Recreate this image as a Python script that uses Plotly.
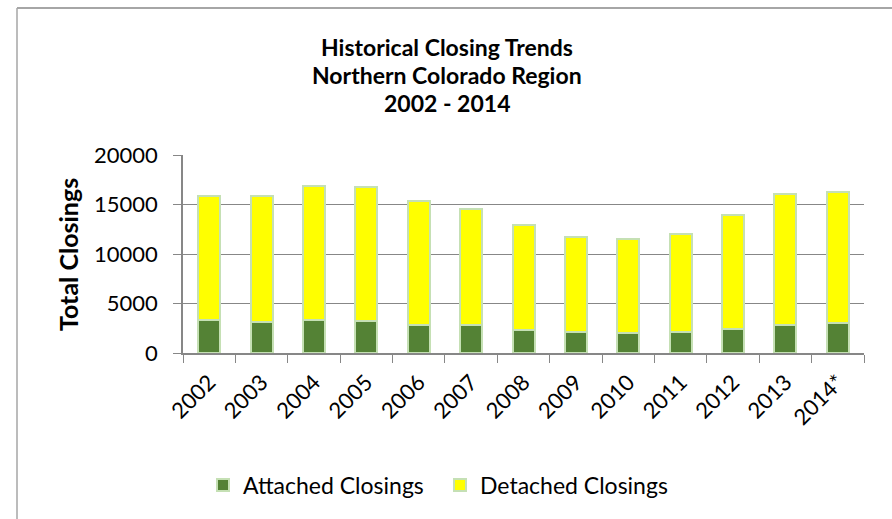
import plotly.graph_objects as go

years = ["2002", "2003", "2004", "2005", "2006", "2007", "2008",
         "2009", "2010", "2011", "2012", "2013", "2014*"]
attached = [3330, 3130, 3330, 3190, 2860, 2790, 2355, 2150, 2020, 2080, 2420, 2860, 2990]
detached = [12490, 12760, 13570, 13610, 12490, 11790, 10535, 9600, 9525, 9900, 11550, 13230, 13270]

title_lines = ["Historical Closing Trends", "Northern Colorado Region", "2002 - 2014"]
y_ticks = [0, 5000, 10000, 15000, 20000]
y_ticktext = ["0", "5000", "10000", "15000", "20000"]

FONT = "Lato, 'Open Sans', sans-serif"
BORDER = "#c5e0b4"
GRID = "#878787"

# plot area geometry (pixels) used to place decorations in paper coords
L, R, T, B = 183, 864, 155, 353
W, H = R - L, B - T
def px(x):
    return (x - L) / W
def py(y):
    return (B - y) / H

fig = go.Figure()
fig.add_trace(go.Bar(x=years, y=attached, name="Attached Closings",
                     marker=dict(color="#548235", line=dict(color=BORDER, width=2))))
fig.add_trace(go.Bar(x=years, y=detached, name="Detached Closings",
                     marker=dict(color="#ffff00", line=dict(color=BORDER, width=2))))

annotations = []
for i, line in enumerate(title_lines):
    annotations.append(dict(text="<b>" + line + "</b>", xref="paper", yref="paper",
                            x=px(447), y=py(47 + 28 * i), xanchor="center", yanchor="middle",
                            showarrow=False, font=dict(size=23, family=FONT)))
annotations.append(dict(text="<b>Total Closings</b>", xref="paper", yref="paper", textangle=-90,
                        x=px(68), y=py(255), xanchor="center", yanchor="middle", showarrow=False,
                        font=dict(size=25, family=FONT)))

fig.update_layout(
    width=892, height=519,
    barmode="stack", bargap=0.58,
    paper_bgcolor="white", plot_bgcolor="white",
    margin=dict(l=L, r=892 - R, t=T, b=519 - B, pad=0, autoexpand=False),
    font=dict(family=FONT, color="black", size=22),
    showlegend=True,
    legend=dict(orientation="h", x=px(440), xanchor="center", y=py(485), yanchor="middle",
                font=dict(size=23), itemwidth=30, entrywidth=192, traceorder="normal"),
    xaxis=dict(type="category", tickangle=-45, showline=True, linecolor=GRID, linewidth=1.5,
               ticks="outside", tickson="boundaries", ticklen=8, tickcolor=GRID,
               tickfont=dict(size=22), showgrid=False, automargin=False, ticklabelstandoff=6),
    yaxis=dict(range=[0, 20000], tickvals=y_ticks, ticktext=y_ticktext, showline=True,
               linecolor=GRID, linewidth=1.5,
               ticks="outside", ticklen=8, tickcolor=GRID, gridcolor=GRID, gridwidth=1.2,
               tickfont=dict(size=22), zeroline=False, ticklabelstandoff=11, automargin=False),
    annotations=annotations,
    shapes=[
        dict(type="line", xref="paper", yref="paper", x0=px(17), y0=py(8), x1=px(892), y1=py(8),
             line=dict(color="#a6a6a6", width=2)),
        dict(type="line", xref="paper", yref="paper", x0=px(17), y0=py(8), x1=px(17), y1=py(519),
             line=dict(color="#a6a6a6", width=1.5)),
    ],
)

fig.write_html("out.html", config={"displayModeBar": False},
               post_script="document.body.style.margin='0';")
